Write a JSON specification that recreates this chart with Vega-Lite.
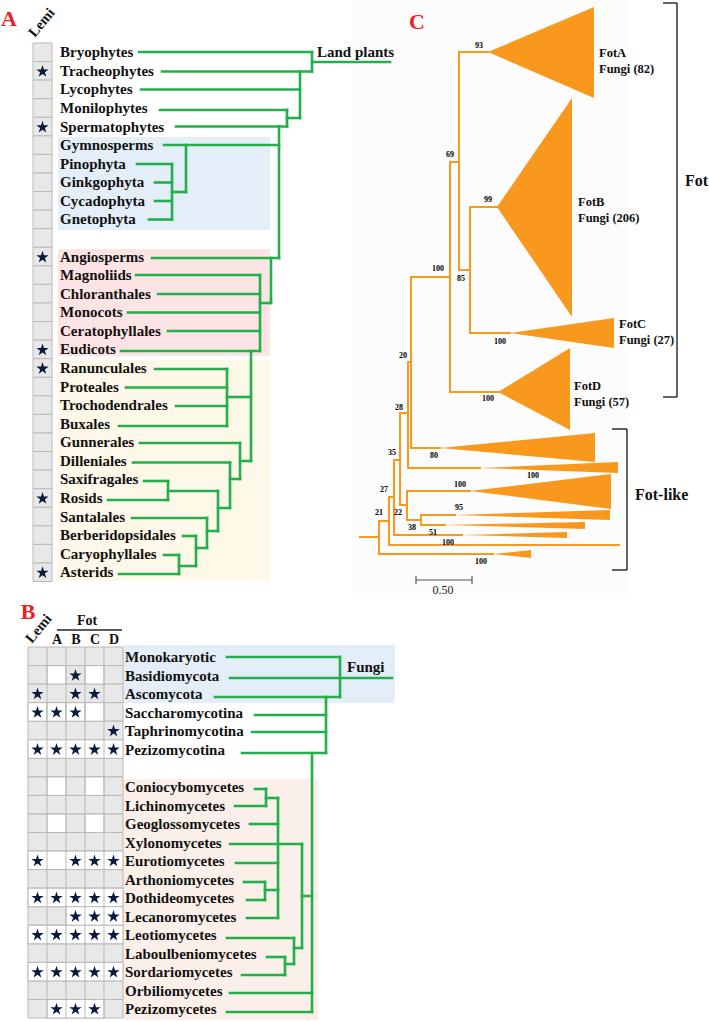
{
"$schema": "https://vega.github.io/schema/vega-lite/v6.json",
"width": 709, "height": 1022,
"autosize": {"type": "fit", "contains": "padding"},
"padding": 0,
"background": "white",
"config": {"view": {"stroke": null}},
"datasets": {
"bg": [
{"x":58,"x2":270,"y":137,"y2":230,"z":"blue"},
{"x":58,"x2":270,"y":249,"y2":356,"z":"pink"},
{"x":58,"x2":270,"y":360,"y2":581,"z":"cream"},
{"x":123,"x2":395,"y":645,"y2":703,"z":"blue"},
{"x":123,"x2":318,"y":779,"y2":1020,"z":"peach"},
{"x":353,"x2":628,"y":0,"y2":598,"z":"panel"}
],
"gray": [
{"x":33,"x2":52,"y":43,"y2":61.6},{"x":33,"x2":52,"y":61.6,"y2":80.1},{"x":33,"x2":52,"y":80.1,"y2":98.7},{"x":33,"x2":52,"y":98.7,"y2":117.3},{"x":33,"x2":52,"y":117.3,"y2":135.9},{"x":33,"x2":52,"y":135.9,"y2":154.4},{"x":33,"x2":52,"y":154.4,"y2":173},{"x":33,"x2":52,"y":173,"y2":191.6},{"x":33,"x2":52,"y":191.6,"y2":210.1},{"x":33,"x2":52,"y":210.1,"y2":228.7},{"x":33,"x2":52,"y":228.7,"y2":247.3},{"x":33,"x2":52,"y":247.3,"y2":265.8},{"x":33,"x2":52,"y":265.8,"y2":284.4},{"x":33,"x2":52,"y":284.4,"y2":303},{"x":33,"x2":52,"y":303,"y2":321.6},{"x":33,"x2":52,"y":321.6,"y2":340.1},{"x":33,"x2":52,"y":340.1,"y2":358.7},{"x":33,"x2":52,"y":358.7,"y2":377.3},{"x":33,"x2":52,"y":377.3,"y2":395.8},{"x":33,"x2":52,"y":395.8,"y2":414.4},{"x":33,"x2":52,"y":414.4,"y2":433},{"x":33,"x2":52,"y":433,"y2":451.5},{"x":33,"x2":52,"y":451.5,"y2":470.1},{"x":33,"x2":52,"y":470.1,"y2":488.7},{"x":33,"x2":52,"y":488.7,"y2":507.3},{"x":33,"x2":52,"y":507.3,"y2":525.8},{"x":33,"x2":52,"y":525.8,"y2":544.4},{"x":33,"x2":52,"y":544.4,"y2":563},{"x":33,"x2":52,"y":563,"y2":581.5},
{"x":28,"x2":123,"y":647,"y2":665.6},{"x":28,"x2":123,"y":665.6,"y2":684.1},{"x":28,"x2":123,"y":684.1,"y2":702.7},{"x":28,"x2":123,"y":702.7,"y2":721.2},{"x":28,"x2":123,"y":721.2,"y2":739.8},{"x":28,"x2":123,"y":739.8,"y2":758.3},{"x":28,"x2":123,"y":758.3,"y2":776.9},{"x":28,"x2":123,"y":776.9,"y2":795.4},{"x":28,"x2":123,"y":795.4,"y2":814},{"x":28,"x2":123,"y":814,"y2":832.5},{"x":28,"x2":123,"y":832.5,"y2":851.1},{"x":28,"x2":123,"y":851.1,"y2":869.6},{"x":28,"x2":123,"y":869.6,"y2":888.2},{"x":28,"x2":123,"y":888.2,"y2":906.7},{"x":28,"x2":123,"y":906.7,"y2":925.3},{"x":28,"x2":123,"y":925.3,"y2":943.8},{"x":28,"x2":123,"y":943.8,"y2":962.4},{"x":28,"x2":123,"y":962.4,"y2":980.9},{"x":28,"x2":123,"y":980.9,"y2":999.5},{"x":28,"x2":123,"y":999.5,"y2":1018}
],
"white": [
{"x":47,"x2":66,"y":665.6,"y2":684.1},{"x":85,"x2":104,"y":665.6,"y2":684.1},
{"x":28,"x2":47,"y":702.7,"y2":721.2},{"x":47,"x2":66,"y":702.7,"y2":721.2},{"x":66,"x2":85,"y":702.7,"y2":721.2},{"x":85,"x2":104,"y":702.7,"y2":721.2},
{"x":28,"x2":123,"y":739.8,"y2":758.3},
{"x":47,"x2":66,"y":776.9,"y2":795.4},{"x":85,"x2":104,"y":776.9,"y2":795.4},
{"x":47,"x2":66,"y":814,"y2":832.5},{"x":85,"x2":104,"y":814,"y2":832.5},
{"x":28,"x2":123,"y":851.1,"y2":869.6},
{"x":28,"x2":123,"y":888.2,"y2":906.7},
{"x":66,"x2":123,"y":906.7,"y2":925.3},
{"x":28,"x2":123,"y":925.3,"y2":943.8},
{"x":28,"x2":123,"y":962.4,"y2":980.9},
{"x":47,"x2":104,"y":999.5,"y2":1018}
],
"grid": [
{"x":47,"x2":47,"y":647,"y2":1018},{"x":66,"x2":66,"y":647,"y2":1018},{"x":85,"x2":85,"y":647,"y2":1018},{"x":104,"x2":104,"y":647,"y2":1018}
],
"stars": [
{"x":42.5,"y":70.9},{"x":42.5,"y":126.6},{"x":42.5,"y":256.6},{"x":42.5,"y":349.4},{"x":42.5,"y":368},{"x":42.5,"y":497.9},{"x":42.5,"y":572.2},
{"x":75.5,"y":674.8},
{"x":37.5,"y":693.4},{"x":75.5,"y":693.4},{"x":94.5,"y":693.4},
{"x":37.5,"y":711.9},{"x":56.5,"y":711.9},{"x":75.5,"y":711.9},
{"x":113.5,"y":730.5},
{"x":37.5,"y":749},{"x":56.5,"y":749},{"x":75.5,"y":749},{"x":94.5,"y":749},{"x":113.5,"y":749},
{"x":37.5,"y":860.3},{"x":75.5,"y":860.3},{"x":94.5,"y":860.3},{"x":113.5,"y":860.3},
{"x":37.5,"y":897.4},{"x":56.5,"y":897.4},{"x":75.5,"y":897.4},{"x":94.5,"y":897.4},{"x":113.5,"y":897.4},
{"x":75.5,"y":916},{"x":94.5,"y":916},{"x":113.5,"y":916},
{"x":37.5,"y":934.5},{"x":56.5,"y":934.5},{"x":75.5,"y":934.5},{"x":94.5,"y":934.5},{"x":113.5,"y":934.5},
{"x":37.5,"y":971.6},{"x":56.5,"y":971.6},{"x":75.5,"y":971.6},{"x":94.5,"y":971.6},{"x":113.5,"y":971.6},
{"x":56.5,"y":1008.7},{"x":75.5,"y":1008.7},{"x":94.5,"y":1008.7}
],
"green": [
{"x":139,"y":52,"x2":312,"y2":52},{"x":162,"y":71.5,"x2":312,"y2":71.5},{"x":312,"y":62,"x2":390,"y2":62},{"x":141,"y":89.5,"x2":300,"y2":89.5},{"x":160,"y":110,"x2":287,"y2":110},{"x":287,"y":118,"x2":300,"y2":118},{"x":176,"y":126.5,"x2":287,"y2":126.5},{"x":164,"y":145,"x2":279,"y2":145},{"x":137,"y":164,"x2":172,"y2":164},{"x":155,"y":182.5,"x2":172,"y2":182.5},{"x":155,"y":201,"x2":172,"y2":201},{"x":149,"y":219.5,"x2":172,"y2":219.5},{"x":172,"y":192,"x2":186,"y2":192},{"x":152,"y":258,"x2":279,"y2":258},{"x":260,"y":303,"x2":271,"y2":303},{"x":136,"y":275,"x2":260,"y2":275},{"x":158,"y":294,"x2":260,"y2":294},{"x":128,"y":312.5,"x2":260,"y2":312.5},{"x":168,"y":331,"x2":260,"y2":331},{"x":121,"y":351,"x2":260,"y2":351},{"x":155,"y":369,"x2":227,"y2":369},{"x":126,"y":387.5,"x2":227,"y2":387.5},{"x":176,"y":406,"x2":227,"y2":406},{"x":119,"y":426,"x2":227,"y2":426},{"x":227,"y":397,"x2":251,"y2":397},{"x":140,"y":443,"x2":240,"y2":443},{"x":240,"y":461,"x2":251,"y2":461},{"x":133,"y":462.5,"x2":230,"y2":462.5},{"x":230,"y":479,"x2":240,"y2":479},{"x":144,"y":481,"x2":168,"y2":481},{"x":108,"y":500,"x2":168,"y2":500},{"x":168,"y":491,"x2":218,"y2":491},{"x":218,"y":508,"x2":230,"y2":508},{"x":132,"y":518,"x2":207,"y2":518},{"x":207,"y":531,"x2":218,"y2":531},{"x":183,"y":536,"x2":196,"y2":536},{"x":196,"y":548,"x2":207,"y2":548},{"x":164,"y":555,"x2":179,"y2":555},{"x":119,"y":574,"x2":179,"y2":574},{"x":179,"y":566,"x2":196,"y2":566},
{"x":312,"y":52,"x2":312,"y2":71.5},{"x":300,"y":71.5,"x2":300,"y2":118},{"x":287,"y":110,"x2":287,"y2":126.5},{"x":279,"y":126.5,"x2":279,"y2":258},{"x":186,"y":145,"x2":186,"y2":192},{"x":172,"y":164,"x2":172,"y2":219.5},{"x":271,"y":258,"x2":271,"y2":303},{"x":260,"y":275,"x2":260,"y2":351},{"x":251,"y":351,"x2":251,"y2":461},{"x":227,"y":369,"x2":227,"y2":426},{"x":240,"y":443,"x2":240,"y2":479},{"x":230,"y":462.5,"x2":230,"y2":508},{"x":218,"y":491,"x2":218,"y2":531},{"x":168,"y":481,"x2":168,"y2":500},{"x":207,"y":518,"x2":207,"y2":548},{"x":196,"y":536,"x2":196,"y2":566},{"x":179,"y":555,"x2":179,"y2":574},
{"x":227,"y":657,"x2":340,"y2":657},{"x":230,"y":678,"x2":340,"y2":678},{"x":340,"y":678,"x2":392,"y2":678},{"x":215,"y":697,"x2":340,"y2":697},{"x":255,"y":715,"x2":326,"y2":715},{"x":252,"y":732,"x2":326,"y2":732},{"x":242,"y":753,"x2":326,"y2":753},{"x":255,"y":789,"x2":266,"y2":789},{"x":235,"y":806,"x2":266,"y2":806},{"x":266,"y":798,"x2":278,"y2":798},{"x":250,"y":824,"x2":278,"y2":824},{"x":230,"y":844,"x2":302,"y2":844},{"x":236,"y":863,"x2":278,"y2":863},{"x":244,"y":882,"x2":265,"y2":882},{"x":247,"y":900,"x2":265,"y2":900},{"x":265,"y":890,"x2":278,"y2":890},{"x":247,"y":918,"x2":278,"y2":918},{"x":227,"y":938,"x2":294,"y2":938},{"x":267,"y":957,"x2":285,"y2":957},{"x":242,"y":975,"x2":285,"y2":975},{"x":285,"y":964,"x2":294,"y2":964},{"x":294,"y":948,"x2":302,"y2":948},{"x":302,"y":896,"x2":312,"y2":896},{"x":230,"y":993,"x2":312,"y2":993},{"x":227,"y":1012,"x2":312,"y2":1012},
{"x":340,"y":657,"x2":340,"y2":697},{"x":326,"y":697,"x2":326,"y2":753},{"x":312,"y":753,"x2":312,"y2":1012},{"x":266,"y":789,"x2":266,"y2":806},{"x":278,"y":798,"x2":278,"y2":918},{"x":265,"y":882,"x2":265,"y2":900},{"x":302,"y":844,"x2":302,"y2":948},{"x":294,"y":938,"x2":294,"y2":964},{"x":285,"y":957,"x2":285,"y2":975}
],
"orange": [
{"x":360,"y":537,"x2":379,"y2":537},{"x":379,"y":521,"x2":379,"y2":554},{"x":379,"y":521,"x2":389,"y2":521},{"x":379,"y":554,"x2":493,"y2":554},{"x":389,"y":497,"x2":389,"y2":545},{"x":389,"y":545,"x2":619,"y2":545},{"x":389,"y":497,"x2":394,"y2":497},{"x":394,"y":460,"x2":394,"y2":535},{"x":394,"y":535,"x2":462,"y2":535},{"x":394,"y":460,"x2":400,"y2":460},{"x":400,"y":413,"x2":400,"y2":505},{"x":400,"y":505,"x2":407,"y2":505},{"x":407,"y":491,"x2":407,"y2":520},{"x":407,"y":491,"x2":470,"y2":491},{"x":407,"y":520,"x2":421,"y2":520},{"x":421,"y":515,"x2":421,"y2":525},{"x":421,"y":515,"x2":455,"y2":515},{"x":421,"y":525,"x2":445,"y2":525},{"x":400,"y":413,"x2":408,"y2":413},{"x":408,"y":362,"x2":408,"y2":468},{"x":408,"y":468,"x2":480,"y2":468},{"x":408,"y":362,"x2":411,"y2":362},{"x":411,"y":277,"x2":411,"y2":448},{"x":411,"y":448,"x2":440,"y2":448},{"x":411,"y":277,"x2":450,"y2":277},{"x":450,"y":162,"x2":450,"y2":392},{"x":450,"y":392,"x2":498,"y2":392},{"x":450,"y":162,"x2":459,"y2":162},{"x":459,"y":52,"x2":459,"y2":270},{"x":459,"y":52,"x2":488,"y2":52},{"x":459,"y":270,"x2":470,"y2":270},{"x":470,"y":207,"x2":470,"y2":333},{"x":470,"y":207,"x2":497,"y2":207},{"x":470,"y":333,"x2":510,"y2":333}
],
"tri": [
{"id":"FotA","x":488,"y":52,"y2":52},{"id":"FotA","x":594,"y":7,"y2":98},
{"id":"FotB","x":497,"y":207,"y2":207},{"id":"FotB","x":572,"y":98,"y2":317},
{"id":"FotC","x":510,"y":333,"y2":333},{"id":"FotC","x":614,"y":318,"y2":348},
{"id":"FotD","x":498,"y":392,"y2":392},{"id":"FotD","x":570,"y":348,"y2":430},
{"id":"L80","x":440,"y":448,"y2":448},{"id":"L80","x":595,"y":433,"y2":462},
{"id":"Llong","x":480,"y":468,"y2":468},{"id":"Llong","x":618,"y":462,"y2":473},
{"id":"L100","x":470,"y":491,"y2":491},{"id":"L100","x":611,"y":474,"y2":509},
{"id":"L95","x":455,"y":515,"y2":515},{"id":"L95","x":610,"y":510,"y2":520},
{"id":"Lthin","x":445,"y":525,"y2":525},{"id":"Lthin","x":585,"y":522,"y2":529},
{"id":"L51","x":462,"y":535,"y2":535},{"id":"L51","x":567,"y":532,"y2":538},
{"id":"Lbot","x":493,"y":554,"y2":554},{"id":"Lbot","x":531,"y":550,"y2":558}
],
"black": [
{"x":677,"y":3,"x2":677,"y2":397},{"x":663,"y":3,"x2":677,"y2":3},{"x":663,"y":397,"x2":677,"y2":397},
{"x":627,"y":429,"x2":627,"y2":570},{"x":612,"y":429,"x2":627,"y2":429},{"x":612,"y":570,"x2":627,"y2":570},
{"x":57,"y":630,"x2":122,"y2":630}
],
"bar": [
{"x":416,"y":580,"x2":472,"y2":580},{"x":416,"y":576,"x2":416,"y2":584},{"x":472,"y":576,"x2":472,"y2":584}
],
"txt": [
{"k":"n","x":60,"y":52.3,"t":"Bryophytes"},{"k":"n","x":60,"y":70.9,"t":"Tracheophytes"},{"k":"n","x":60,"y":89.4,"t":"Lycophytes"},{"k":"n","x":60,"y":108,"t":"Monilophytes"},{"k":"n","x":60,"y":126.6,"t":"Spermatophytes"},{"k":"n","x":60,"y":145.1,"t":"Gymnosperms"},{"k":"n","x":60,"y":163.7,"t":"Pinophyta"},{"k":"n","x":60,"y":182.3,"t":"Ginkgophyta"},{"k":"n","x":60,"y":200.8,"t":"Cycadophyta"},{"k":"n","x":60,"y":219.4,"t":"Gnetophyta"},{"k":"n","x":60,"y":256.6,"t":"Angiosperms"},{"k":"n","x":60,"y":275.1,"t":"Magnoliids"},{"k":"n","x":60,"y":293.7,"t":"Chloranthales"},{"k":"n","x":60,"y":312.3,"t":"Monocots"},{"k":"n","x":60,"y":330.8,"t":"Ceratophyllales"},{"k":"n","x":60,"y":349.4,"t":"Eudicots"},{"k":"n","x":60,"y":368,"t":"Ranunculales"},{"k":"n","x":60,"y":386.5,"t":"Proteales"},{"k":"n","x":60,"y":405.1,"t":"Trochodendrales"},{"k":"n","x":60,"y":423.7,"t":"Buxales"},{"k":"n","x":60,"y":442.2,"t":"Gunnerales"},{"k":"n","x":60,"y":460.8,"t":"Dilleniales"},{"k":"n","x":60,"y":479.4,"t":"Saxifragales"},{"k":"n","x":60,"y":497.9,"t":"Rosids"},{"k":"n","x":60,"y":516.5,"t":"Santalales"},{"k":"n","x":60,"y":535.1,"t":"Berberidopsidales"},{"k":"n","x":60,"y":553.7,"t":"Caryophyllales"},{"k":"n","x":60,"y":572.2,"t":"Asterids"},
{"k":"n","x":317,"y":52,"t":"Land plants"},
{"k":"n","x":125,"y":657,"t":"Monokaryotic"},{"k":"n","x":125,"y":675.5,"t":"Basidiomycota"},{"k":"n","x":125,"y":694,"t":"Ascomycota"},{"k":"n","x":125,"y":712.5,"t":"Saccharomycotina"},{"k":"n","x":125,"y":731,"t":"Taphrinomycotina"},{"k":"n","x":125,"y":749.5,"t":"Pezizomycotina"},{"k":"n","x":125,"y":787,"t":"Coniocybomycetes"},{"k":"n","x":125,"y":805.5,"t":"Lichinomycetes"},{"k":"n","x":125,"y":824,"t":"Geoglossomycetes"},{"k":"n","x":125,"y":842.5,"t":"Xylonomycetes"},{"k":"n","x":125,"y":861,"t":"Eurotiomycetes"},{"k":"n","x":125,"y":879.5,"t":"Arthoniomycetes"},{"k":"n","x":125,"y":898,"t":"Dothideomycetes"},{"k":"n","x":125,"y":916.5,"t":"Lecanoromycetes"},{"k":"n","x":125,"y":935,"t":"Leotiomycetes"},{"k":"n","x":125,"y":953.5,"t":"Laboulbeniomycetes"},{"k":"n","x":125,"y":972,"t":"Sordariomycetes"},{"k":"n","x":125,"y":990.5,"t":"Orbiliomycetes"},{"k":"n","x":125,"y":1009,"t":"Pezizomycetes"},
{"k":"n","x":347,"y":667,"t":"Fungi"},
{"k":"b","x":479,"y":46,"t":"93"},{"k":"b","x":450,"y":155,"t":"69"},{"k":"b","x":488,"y":200,"t":"99"},{"k":"b","x":461,"y":279,"t":"85"},{"k":"b","x":438,"y":269,"t":"100"},{"k":"b","x":500,"y":342,"t":"100"},{"k":"b","x":488,"y":399,"t":"100"},{"k":"b","x":403,"y":356,"t":"20"},{"k":"b","x":399,"y":408,"t":"28"},{"k":"b","x":434,"y":456,"t":"80"},{"k":"b","x":533,"y":476,"t":"100"},{"k":"b","x":392,"y":453,"t":"35"},{"k":"b","x":460,"y":485,"t":"100"},{"k":"b","x":384,"y":490,"t":"27"},{"k":"b","x":459,"y":508,"t":"95"},{"k":"b","x":398,"y":513,"t":"22"},{"k":"b","x":379,"y":513,"t":"21"},{"k":"b","x":412,"y":528,"t":"38"},{"k":"b","x":433,"y":533,"t":"51"},{"k":"b","x":448,"y":543,"t":"100"},{"k":"b","x":481,"y":562,"t":"100"},
{"k":"c","x":599,"y":53,"t":"FotA"},{"k":"c","x":599,"y":69,"t":"Fungi (82)"},{"k":"c","x":578,"y":202,"t":"FotB"},{"k":"c","x":578,"y":218,"t":"Fungi (206)"},{"k":"c","x":619,"y":324,"t":"FotC"},{"k":"c","x":619,"y":340,"t":"Fungi (27)"},{"k":"c","x":574,"y":386,"t":"FotD"},{"k":"c","x":574,"y":402,"t":"Fungi (57)"},
{"k":"f","x":685,"y":181,"t":"Fot"},{"k":"f","x":635,"y":495,"t":"Fot-like"},
{"k":"p","x":9,"y":19,"t":"A"},{"k":"p","x":28,"y":612,"t":"B"},{"k":"p","x":417,"y":22,"t":"C"},
{"k":"h","x":87,"y":621,"t":"Fot"},{"k":"h","x":57,"y":640,"t":"A"},{"k":"h","x":76,"y":640,"t":"B"},{"k":"h","x":95,"y":640,"t":"C"},{"k":"h","x":114,"y":640,"t":"D"},
{"k":"s","x":443,"y":590,"t":"0.50"},
{"k":"l","x":42,"y":23,"t":"Lemi"},{"k":"l","x":39,"y":629,"t":"Lemi"}
]
},
"encoding": {
"x": {"field": "x", "type": "quantitative", "scale": {"domain": [0, 709], "nice": false, "zero": false}, "axis": null},
"y": {"field": "y", "type": "quantitative", "scale": {"domain": [0, 1022], "nice": false, "zero": false, "reverse": true}, "axis": null}
},
"layer": [
{"data": {"name": "bg"}, "mark": {"type": "rect"},
 "encoding": {"x2": {"field": "x2"}, "y2": {"field": "y2"},
  "color": {"field": "z", "type": "nominal", "legend": null, "scale": {"domain": ["blue","pink","cream","peach","panel"], "range": ["#e3eef8","#fde4e4","#fef8e8","#fbf0e9","#fcfcfc"]}}}},
{"data": {"name": "gray"}, "mark": {"type": "rect", "fill": "#e8e8e8", "stroke": "#b9b9b9", "strokeWidth": 1},
 "encoding": {"x2": {"field": "x2"}, "y2": {"field": "y2"}}},
{"data": {"name": "white"}, "mark": {"type": "rect", "fill": "#ffffff", "stroke": "#b9b9b9", "strokeWidth": 1},
 "encoding": {"x2": {"field": "x2"}, "y2": {"field": "y2"}}},
{"data": {"name": "grid"}, "mark": {"type": "rule", "color": "#b9b9b9", "strokeWidth": 1},
 "encoding": {"x2": {"field": "x2"}, "y2": {"field": "y2"}}},
{"data": {"name": "stars"}, "mark": {"type": "point", "filled": true, "opacity": 1, "color": "#0d1a3f", "size": 170, "strokeWidth": 0,
 "shape": "M0,-0.905L0.2245,-0.214L0.9511,-0.214L0.3633,0.213L0.5878,0.904L0,0.477L-0.5878,0.904L-0.3633,0.213L-0.9511,-0.214L-0.2245,-0.214Z"},
 "encoding": {}},
{"data": {"name": "green"}, "mark": {"type": "rule", "color": "#22b04b", "strokeWidth": 2.6, "strokeCap": "square"},
 "encoding": {"x2": {"field": "x2"}, "y2": {"field": "y2"}}},
{"data": {"name": "orange"}, "mark": {"type": "rule", "color": "#f8991d", "strokeWidth": 2, "strokeCap": "square"},
 "encoding": {"x2": {"field": "x2"}, "y2": {"field": "y2"}}},
{"data": {"name": "tri"}, "mark": {"type": "area", "orient": "vertical", "color": "#f8991d", "opacity": 1},
 "encoding": {"y2": {"field": "y2"}, "detail": {"field": "id", "type": "nominal"}}},
{"data": {"name": "black"}, "mark": {"type": "rule", "color": "#222222", "strokeWidth": 1.4},
 "encoding": {"x2": {"field": "x2"}, "y2": {"field": "y2"}}},
{"data": {"name": "bar"}, "mark": {"type": "rule", "color": "#555555", "strokeWidth": 1.2},
 "encoding": {"x2": {"field": "x2"}, "y2": {"field": "y2"}}},
{"data": {"name": "txt"}, "transform": [{"filter": "datum.k == 'n'"}],
 "mark": {"type": "text", "font": "Liberation Serif", "fontWeight": "bold", "fontSize": 15, "align": "left", "baseline": "middle", "color": "#111111"},
 "encoding": {"text": {"field": "t"}}},
{"data": {"name": "txt"}, "transform": [{"filter": "datum.k == 'b'"}],
 "mark": {"type": "text", "font": "Liberation Serif", "fontWeight": "bold", "fontSize": 8, "align": "center", "baseline": "middle", "color": "#000000"},
 "encoding": {"text": {"field": "t"}}},
{"data": {"name": "txt"}, "transform": [{"filter": "datum.k == 'c'"}],
 "mark": {"type": "text", "font": "Liberation Serif", "fontWeight": "bold", "fontSize": 12.5, "align": "left", "baseline": "middle", "color": "#111111"},
 "encoding": {"text": {"field": "t"}}},
{"data": {"name": "txt"}, "transform": [{"filter": "datum.k == 'f'"}],
 "mark": {"type": "text", "font": "Liberation Serif", "fontWeight": "bold", "fontSize": 16, "align": "left", "baseline": "middle", "color": "#111111"},
 "encoding": {"text": {"field": "t"}}},
{"data": {"name": "txt"}, "transform": [{"filter": "datum.k == 'p'"}],
 "mark": {"type": "text", "font": "Liberation Serif", "fontWeight": "bold", "fontSize": 22, "align": "center", "baseline": "middle", "color": "#ee1c24"},
 "encoding": {"text": {"field": "t"}}},
{"data": {"name": "txt"}, "transform": [{"filter": "datum.k == 'h'"}],
 "mark": {"type": "text", "font": "Liberation Serif", "fontWeight": "bold", "fontSize": 14, "align": "center", "baseline": "middle", "color": "#111111"},
 "encoding": {"text": {"field": "t"}}},
{"data": {"name": "txt"}, "transform": [{"filter": "datum.k == 's'"}],
 "mark": {"type": "text", "font": "Liberation Serif", "fontSize": 12, "align": "center", "baseline": "middle", "color": "#222222"},
 "encoding": {"text": {"field": "t"}}},
{"data": {"name": "txt"}, "transform": [{"filter": "datum.k == 'l'"}],
 "mark": {"type": "text", "font": "Liberation Serif", "fontWeight": "bold", "fontSize": 14.5, "align": "center", "baseline": "middle", "angle": -50, "color": "#111111"},
 "encoding": {"text": {"field": "t"}}}
]
}
